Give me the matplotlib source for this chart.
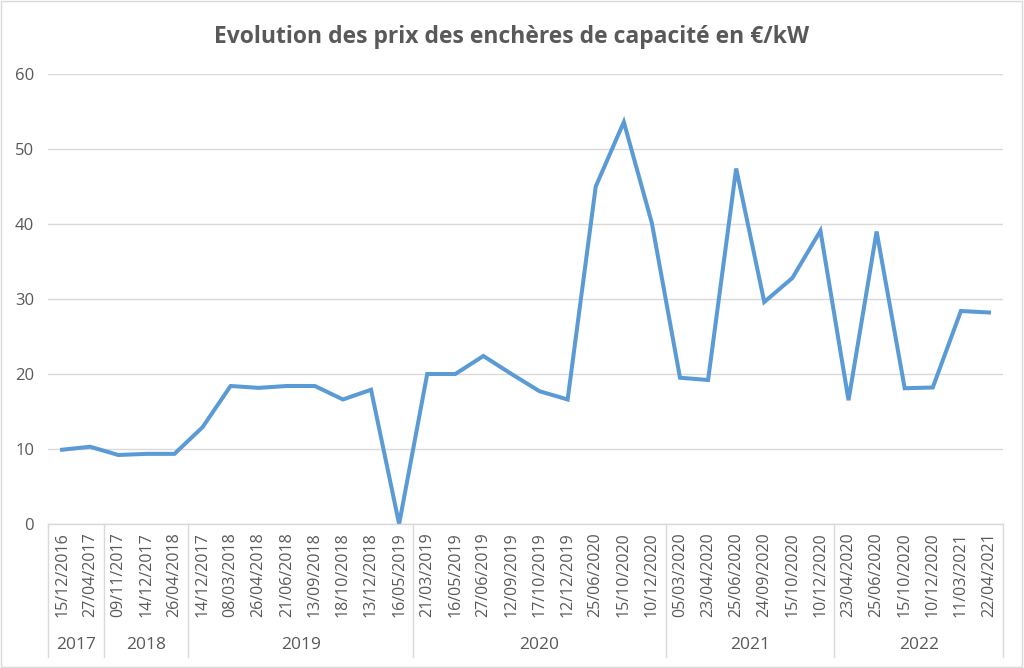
import matplotlib
matplotlib.use("Agg")
import matplotlib.pyplot as plt
from matplotlib.transforms import blended_transform_factory
from matplotlib.patches import Rectangle

dates = ["15/12/2016", "27/04/2017",
         "09/11/2017", "14/12/2017", "26/04/2018",
         "14/12/2017", "08/03/2018", "26/04/2018", "21/06/2018",
         "13/09/2018", "18/10/2018", "13/12/2018", "16/05/2019",
         "21/03/2019", "16/05/2019", "27/06/2019", "12/09/2019",
         "17/10/2019", "12/12/2019", "25/06/2020", "15/10/2020", "10/12/2020",
         "05/03/2020", "23/04/2020", "25/06/2020", "24/09/2020",
         "15/10/2020", "10/12/2020",
         "23/04/2020", "25/06/2020", "15/10/2020", "10/12/2020",
         "11/03/2021", "22/04/2021"]
prices = [9.9, 10.3,
          9.2, 9.35, 9.35,
          12.9, 18.4, 18.15, 18.4, 18.4, 16.6, 17.9, 0.0,
          20.0, 20.0, 22.4, 20.0, 17.7, 16.6, 45.0, 53.6, 40.1,
          19.5, 19.2, 47.4, 29.6, 32.8, 39.1,
          16.5, 39.0, 18.1, 18.2, 28.4, 28.2]
years = ["2017", "2018", "2019", "2020", "2021", "2022"]
year_counts = [2, 3, 8, 9, 6, 6]

GREY = "#595959"
GRID = "#d9d9d9"
BLUE = "#5b9bd5"
plt.rcParams["font.family"] = ["Open Sans", "DejaVu Sans"]

fig = plt.figure(figsize=(10.24, 6.68), dpi=100)
ax = fig.add_axes([0.0469, 0.2156, 0.9326, 0.6736])

x = list(range(len(prices)))
ax.plot(x, prices, color=BLUE, lw=2.9, solid_joinstyle="miter")

ax.set_xlim(-0.5, len(prices) - 0.5)
ax.set_ylim(0, 60)
ax.set_yticks(range(0, 61, 10))
ax.yaxis.grid(True, color=GRID, lw=1)
ax.set_axisbelow(True)
for s in ("left", "right", "top"):
    ax.spines[s].set_visible(False)
ax.spines["bottom"].set_color(GRID)
ax.spines["bottom"].set_linewidth(1)
ax.tick_params(axis="y", length=0, pad=10, labelsize=12, labelcolor=GREY)
ax.set_xticks(x)
ax.set_xticklabels(dates, rotation=90, fontsize=11.5, color=GREY)
ax.tick_params(axis="x", length=0, pad=6)

# year level of the category axis
trans = blended_transform_factory(ax.transData, fig.transFigure)
start = -0.5
bounds = [start]
for yr, n in zip(years, year_counts):
    end = start + n
    ax.text((start + end) / 2, 1 - 645 / 668, yr, transform=trans,
            ha="center", va="center", fontsize=12.5, color=GREY)
    bounds.append(end)
    start = end
for b in bounds:
    ax.plot([b, b], [1 - 524 / 668, 1 - 657 / 668], transform=trans,
            color=GRID, lw=1, clip_on=False)

fig.suptitle("Evolution des prix des enchères de capacité en €/kW",
             y=1 - 37 / 668, va="center", fontsize=16.5, fontweight="bold",
             color=GREY)
fig.patches.append(Rectangle((0.001, 0.001), 0.997, 0.997,
                             transform=fig.transFigure, fill=False,
                             edgecolor=GRID, lw=1))
fig.savefig("out.png", dpi=100)
